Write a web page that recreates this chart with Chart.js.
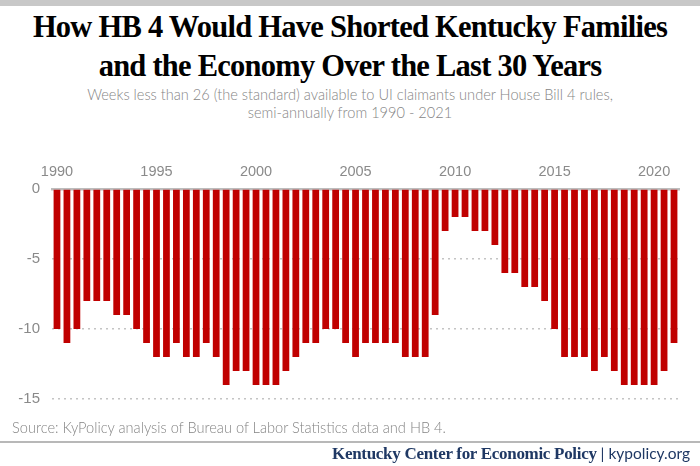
<!DOCTYPE html>
<html>
<head>
<meta charset="utf-8">
<script src="https://cdn.jsdelivr.net/npm/chart.js@4.4.1/dist/chart.umd.min.js"></script>
<style>
  html, body { margin: 0; padding: 0; background: #fff; }
  #page { position: relative; width: 700px; height: 466px; overflow: hidden; background: #fff; }
  #topband { position: absolute; left: 0; top: 0; width: 700px; height: 6px; background: #c8c8c8; }
  .title { position: absolute; left: 0; width: 700px; text-align: center; font-family: "Liberation Serif", "Times New Roman", serif; font-weight: bold; font-size: 30.5px; color: #000; white-space: nowrap; letter-spacing: -0.75px; }
  .sub { position: absolute; left: 0; width: 700px; text-align: center; font-family: Lato, "Open Sans", sans-serif; font-weight: 300; font-size: 14.6px; color: #858585; white-space: nowrap; }
  #source { position: absolute; left: 12px; top: 419px; font-family: Lato, "Open Sans", sans-serif; font-weight: 300; font-size: 14.6px; color: #858585; white-space: nowrap; }
  #rule { position: absolute; left: 0; top: 441px; width: 700px; height: 2px; background: #b8b8b8; }
  #footer { position: absolute; right: 10px; top: 444px; white-space: nowrap; color: #1f3864; }
  #footer .org { font-family: "Liberation Serif", serif; font-weight: bold; font-size: 17px; letter-spacing: -0.3px; }
  #footer .url { font-family: Lato, "Open Sans", sans-serif; font-size: 15.5px; }
  #chartbox { position: absolute; left: 0; top: 150px; width: 700px; height: 270px; }
</style>
</head>
<body>
<div id="page">
  <div id="topband"></div>
  <div class="title" style="top:10px;">How HB 4 Would Have Shorted Kentucky Families</div>
  <div class="title" style="top:49px;">and the Economy Over the Last 30 Years</div>
  <div class="sub" style="top:86px;">Weeks less than 26 (the standard) available to UI claimants under House Bill 4 rules,</div>
  <div class="sub" style="top:104px;">semi-annually from 1990 - 2021</div>
  <div id="chartbox"><canvas id="c" width="700" height="270"></canvas></div>
  <div id="source">Source: KyPolicy analysis of Bureau of Labor Statistics data and HB 4.</div>
  <div id="rule"></div>
  <div id="footer"><span class="org">Kentucky Center for Economic Policy</span><span class="url"> | kypolicy.org</span></div>
</div>
<script>
// Semi-annual periods 1990 H1 .. 2021 H1
const periods = [
  "1990 H1","1990 H2","1991 H1","1991 H2","1992 H1","1992 H2","1993 H1","1993 H2",
  "1994 H1","1994 H2","1995 H1","1995 H2","1996 H1","1996 H2","1997 H1","1997 H2",
  "1998 H1","1998 H2","1999 H1","1999 H2","2000 H1","2000 H2","2001 H1","2001 H2",
  "2002 H1","2002 H2","2003 H1","2003 H2","2004 H1","2004 H2","2005 H1","2005 H2",
  "2006 H1","2006 H2","2007 H1","2007 H2","2008 H1","2008 H2","2009 H1","2009 H2",
  "2010 H1","2010 H2","2011 H1","2011 H2","2012 H1","2012 H2","2013 H1","2013 H2",
  "2014 H1","2014 H2","2015 H1","2015 H2","2016 H1","2016 H2","2017 H1","2017 H2",
  "2018 H1","2018 H2","2019 H1","2019 H2","2020 H1","2020 H2","2021 H1"
];
// Weeks fewer than 26 available under HB 4
const weeksShort = [
  -10,-11,-10,-8,-8,-8,-9,-9,
  -10,-11,-12,-12,-11,-12,-12,-11,
  -12,-14,-13,-13,-14,-14,-14,-13,
  -12,-11,-11,-10,-10,-11,-12,-11,
  -11,-11,-11,-12,-12,-12,-9,-3,
  -2,-2,-3,-3,-4,-6,-6,-7,
  -7,-8,-10,-12,-12,-12,-13,-12,
  -13,-14,-14,-14,-14,-13,-11
];
const yearTickLabels = ["1990","1995","2000","2005","2010","2015","2020"];
const yTicks = [0,-5,-10,-15];

new Chart(document.getElementById('c'), {
  type: 'bar',
  data: {
    labels: periods,
    datasets: [{
      data: weeksShort,
      backgroundColor: '#c00000',
      borderWidth: 0,
      barPercentage: 0.68,
      categoryPercentage: 1.0
    }]
  },
  options: {
    responsive: false,
    animation: false,
    devicePixelRatio: 1,
    layout: { padding: { top: 0, bottom: 12, left: 0, right: 21 } },
    plugins: { legend: { display: false }, tooltip: { enabled: false }, title: { display: false } },
    scales: {
      x: {
        position: 'top',
        grid: { display: false, drawTicks: false },
        border: { display: true, color: '#bdbdbd', width: 2.5 },
        ticks: {
          autoSkip: false, maxRotation: 0, minRotation: 0,
          color: '#8a8a8a', font: { family: 'Liberation Sans, Arial, sans-serif', size: 14.5 },
          padding: 8,
          callback: function(v, i) {
            const lbl = periods[i];
            const yr = lbl.slice(0,4);
            return (lbl.endsWith('H1') && yearTickLabels.includes(yr)) ? yr : '';
          }
        },
        afterFit: function(scale) { scale.height = 39; }
      },
      y: {
        min: -15, max: 0,
        afterBuildTicks: function(scale) { scale.ticks = yTicks.map(v => ({ value: v })); },
        grid: { color: '#c4c4c4', lineWidth: 1.5, drawTicks: false },
        border: { display: false, dash: [2, 4] },
        ticks: {
          color: '#8a8a8a', font: { family: 'Liberation Sans, Arial, sans-serif', size: 15 },
          padding: 12
        },
        afterFit: function(scale) { scale.width = 52; }
      }
    }
  }
});
</script>
</body>
</html>
